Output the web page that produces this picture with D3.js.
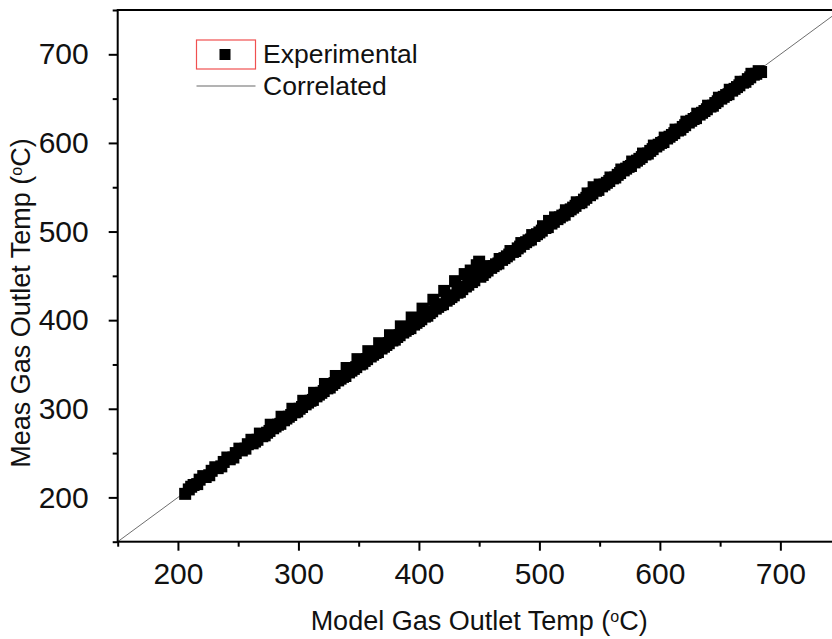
<!DOCTYPE html>
<html>
<head>
<meta charset="utf-8">
<script src="https://cdn.jsdelivr.net/npm/d3@7"></script>
<style>
  html, body { margin: 0; padding: 0; background: #fff; }
  svg { display: block; font-family: Arial, "Liberation Sans", sans-serif; }
</style>
</head>
<body>
<svg id="chart" width="832" height="639"></svg>
<script>
// Model vs measured gas outlet temperature (°C), one entry per logged sample
const modelTemp = [
  206, 211, 216, 221, 226, 231, 236, 241, 246, 251, 256, 261,
  264, 268, 270, 274, 277, 279, 283, 286, 288, 292, 295, 297,
  301, 304, 306, 310, 313, 315, 319, 322, 324, 328, 331, 333,
  337, 340, 342, 346, 349, 351, 355, 358, 360, 364, 367, 369,
  373, 376, 378, 382, 385, 387, 391, 394, 396, 400, 403, 405,
  409, 412, 414, 418, 421, 423, 427, 430, 432, 436, 438, 441,
  443, 446, 448, 450, 451, 455, 458, 460, 464, 467, 469, 473,
  476, 478, 482, 485, 487, 491, 494, 496, 500, 503, 505, 508,
  510, 513, 515, 519, 522, 524, 528, 531, 533, 537, 540, 542,
  545, 547, 550, 552, 556, 559, 561, 565, 568, 570, 574, 577,
  579, 583, 586, 588, 592, 595, 597, 601, 604, 606, 610, 613,
  615, 619, 622, 624, 628, 631, 633, 637, 640, 642, 646, 649,
  651, 655, 658, 660, 664, 667, 669, 673, 676, 678, 682, 684,
  209, 213, 218, 223, 228, 233, 238, 243, 248, 253, 258,
  262, 266, 272, 276, 281, 285, 290, 294, 299, 303, 308, 312,
  317, 321, 326, 330, 335, 339, 344, 348, 353, 357, 362, 366,
  371, 375, 380, 384, 389, 393, 398, 402, 407, 411, 416, 420,
  425, 429, 434, 439, 444, 453, 457, 462, 466, 471, 475, 480,
  484, 489, 493, 498, 502, 507, 512, 517, 521, 526, 530, 535,
  539, 544, 549, 554, 558, 563, 567, 572, 576, 581, 585, 590,
  594, 599, 603, 608, 612, 617, 621, 626, 630, 635, 639, 644,
  648, 653, 657, 662, 666, 671, 675, 680
];
const measTemp = [
  204, 212, 215, 224, 225, 234, 235, 245, 245, 255, 255, 265,
  263, 272, 269, 273, 282, 278, 282, 291, 287, 291, 300, 296,
  300, 309, 305, 309, 318, 314, 318, 328, 323, 327, 337, 332,
  336, 346, 341, 345, 356, 350, 354, 365, 359, 363, 374, 368,
  372, 383, 377, 381, 393, 386, 390, 403, 395, 399, 413, 404,
  408, 423, 413, 417, 433, 422, 426, 444, 431, 435, 452, 440,
  456, 445, 462, 466, 449, 454, 461, 459, 463, 469, 468, 472,
  478, 477, 481, 487, 486, 490, 496, 495, 499, 506, 504, 512,
  509, 516, 514, 518, 524, 523, 527, 533, 532, 536, 543, 541,
  550, 546, 553, 551, 555, 561, 560, 564, 570, 569, 573, 579,
  578, 582, 588, 587, 591, 597, 596, 600, 606, 605, 609, 615,
  614, 618, 624, 623, 627, 633, 632, 636, 642, 641, 645, 651,
  650, 654, 660, 659, 663, 669, 668, 672, 678, 677, 681, 680,
  209, 214, 220, 223, 230, 233, 240, 243, 250, 253, 260,
  261, 265, 270, 275, 280, 283, 289, 293, 297, 302, 307, 310,
  316, 320, 324, 329, 334, 337, 343, 347, 351, 356, 361, 364,
  370, 374, 378, 383, 388, 391, 397, 401, 405, 410, 415, 418,
  424, 428, 432, 438, 443, 451, 456, 461, 464, 470, 474, 478,
  483, 488, 491, 497, 501, 505, 511, 516, 519, 525, 529, 533,
  538, 543, 547, 553, 557, 561, 566, 571, 574, 580, 584, 588,
  593, 598, 601, 607, 611, 615, 620, 625, 628, 634, 638, 642,
  647, 652, 655, 661, 665, 669, 674, 678
];
// Correlated (1:1) line end points
const correlatedLine = [150, 750];

const axisDomain = [150, 750];
const majorTicks = [200, 300, 400, 500, 600, 700];
const minorTicks = [150, 250, 350, 450, 550, 650, 750];
const legendLabels = ["Experimental", "Correlated"];

const svg = d3.select("#chart");
const plot = { left: 117.7, right: 840.6, top: 10, bottom: 541.7 };

const x = d3.scaleLinear().domain(axisDomain).range([plot.left, plot.right]);
const y = d3.scaleLinear().domain(axisDomain).range([plot.bottom, plot.top]);

svg.append("defs").append("clipPath").attr("id", "plotClip")
  .append("rect")
  .attr("x", plot.left).attr("y", plot.top)
  .attr("width", plot.right - plot.left).attr("height", plot.bottom - plot.top);

const inner = svg.append("g").attr("clip-path", "url(#plotClip)");

// 1:1 correlation line
inner.append("line")
  .attr("x1", x(correlatedLine[0])).attr("y1", y(correlatedLine[0]))
  .attr("x2", x(correlatedLine[1])).attr("y2", y(correlatedLine[1]))
  .attr("stroke", "#6e6e6e").attr("stroke-width", 1);

// Experimental points as filled squares
const sq = 12;
inner.append("g").selectAll("rect")
  .data(modelTemp.map((m, i) => [m, measTemp[i]]))
  .join("rect")
  .attr("x", d => x(d[0]) - sq / 2)
  .attr("y", d => y(d[1]) - sq / 2)
  .attr("width", sq).attr("height", sq)
  .attr("fill", "#000");

// Axes
function styleAxis(g) {
  g.select(".domain").remove();
  g.selectAll(".tick line").attr("stroke", "#000").attr("stroke-width", 2);
  g.selectAll(".tick text").attr("fill", "#111").style("font-size", "30px");
}

svg.append("g").attr("transform", `translate(0,${plot.bottom})`)
  .call(d3.axisBottom(x).tickValues(majorTicks).tickSize(9).tickPadding(12).tickFormat(d3.format("d")))
  .call(styleAxis);
svg.append("g").attr("transform", `translate(0,${plot.bottom})`)
  .call(d3.axisBottom(x).tickValues(minorTicks).tickSize(5).tickFormat(""))
  .call(styleAxis);

svg.append("g").attr("transform", `translate(${plot.left},0)`)
  .call(d3.axisLeft(y).tickValues(majorTicks).tickSize(9).tickPadding(20).tickFormat(d3.format("d")))
  .call(styleAxis);
svg.append("g").attr("transform", `translate(${plot.left},0)`)
  .call(d3.axisLeft(y).tickValues(minorTicks).tickSize(5).tickFormat(""))
  .call(styleAxis);

// Frame
svg.append("rect")
  .attr("x", plot.left).attr("y", plot.top)
  .attr("width", plot.right - plot.left).attr("height", plot.bottom - plot.top)
  .attr("fill", "none").attr("stroke", "#000").attr("stroke-width", 2);

// Axis titles with superscript degree mark
function titleText(sel, prefix) {
  sel.append("tspan").text(prefix + " (");
  sel.append("tspan").attr("dy", -8).style("font-size", "16px").text("o");
  sel.append("tspan").attr("dy", 8).text("C)");
}

const xTitle = svg.append("text")
  .attr("x", (plot.left + plot.right) / 2).attr("y", 630)
  .attr("text-anchor", "middle").attr("fill", "#111").style("font-size", "27px");
titleText(xTitle, "Model Gas Outlet Temp");

const yTitle = svg.append("text")
  .attr("transform", "translate(30,303) rotate(-90)")
  .attr("text-anchor", "middle").attr("fill", "#111").style("font-size", "27px");
titleText(yTitle, "Meas Gas Outlet Temp");

// Legend
const lg = svg.append("g");
lg.append("rect").attr("x", 196.5).attr("y", 40).attr("width", 59).attr("height", 29)
  .attr("fill", "none").attr("stroke", "#f05050").attr("stroke-width", 1.2);
lg.append("rect").attr("x", 225 - 5.5).attr("y", 54.5 - 5.5).attr("width", 11).attr("height", 11).attr("fill", "#000");
lg.append("text").attr("x", 263).attr("y", 63).attr("fill", "#111").style("font-size", "26.5px").text(legendLabels[0]);
lg.append("line").attr("x1", 196.5).attr("x2", 255.5).attr("y1", 86).attr("y2", 86)
  .attr("stroke", "#9a9a9a").attr("stroke-width", 1.5);
lg.append("text").attr("x", 263).attr("y", 95).attr("fill", "#111").style("font-size", "26.5px").text(legendLabels[1]);
</script>
</body>
</html>
